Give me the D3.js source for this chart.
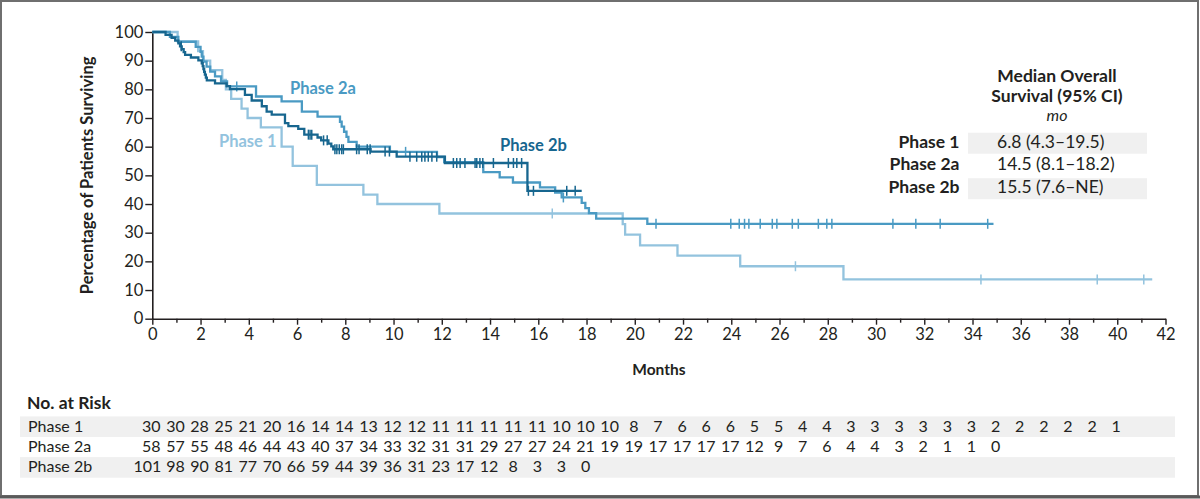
<!DOCTYPE html>
<html>
<head>
<meta charset="utf-8">
<script src="https://cdn.jsdelivr.net/npm/d3@7"></script>
<style>
  html, body { margin: 0; padding: 0; background: #fff; }
  svg { display: block; font-family: Lato, "Open Sans", sans-serif; }
</style>
</head>
<body>
<svg id="chart" width="1200" height="499"></svg>
<script>
// ---------------- DATA ----------------
const seriesNames = ["Phase 1", "Phase 2a", "Phase 2b"];

// Phase 1 (step change points)
const p1Times = [0, 1.05, 1.9, 2.1, 2.4, 2.9, 3.05, 3.27, 3.7, 3.95, 4.5, 5.36, 5.82, 6.82, 8.75, 9.33, 11.9, 19.5, 19.6, 20.22, 21.77, 24.37, 28.65];
const p1Surv  = [100, 96.7, 93.3, 90.0, 86.7, 83.3, 80.0, 76.7, 73.3, 70.0, 66.7, 60.0, 53.3, 46.7, 43.3, 40.0, 36.7, 33.0, 29.3, 25.6, 22.0, 18.3, 13.7];
const p1Censor = [16.58, 26.66, 34.35, 39.17, 41.1];
const p1End = 41.45;

// Phase 2a
const p2aTimes = [0, 0.73, 1.08, 1.8, 2.0, 2.05, 2.12, 2.25, 2.4, 2.6, 2.85, 3.1, 4.3, 5.36, 6.2, 6.85, 7.78, 7.85, 7.95, 8.05, 8.13, 8.47, 9.85, 11.8, 12.1, 13.72, 14.4, 14.95, 16.07, 16.7, 16.97, 17.8, 17.95, 18.1, 18.4, 20.52];
const p2aSurv  = [100, 98.3, 96.6, 94.8, 93.1, 91.4, 89.7, 87.9, 86.2, 84.5, 82.8, 81.0, 77.5, 75.8, 72.2, 70.5, 68.7, 67.0, 65.2, 63.4, 61.7, 60.0, 58.2, 56.4, 54.6, 51.1, 49.3, 47.5, 45.8, 44.0, 42.3, 40.4, 38.6, 36.8, 34.9, 33.1];
const p2aCensor = [3.5, 10.5, 17.04, 20.88, 23.98, 24.33, 24.55, 24.73, 25.2, 25.7, 25.89, 26.53, 26.78, 27.61, 27.96, 28.17, 30.7, 31.65, 32.66, 34.63];
const p2aEnd = 34.87;

// Phase 2b
const p2bTimes = [0, 0.55, 0.8, 0.95, 1.08, 1.15, 1.22, 1.3, 1.36, 1.6, 1.91, 2.05, 2.09, 2.12, 2.15, 2.18, 2.22, 2.26, 2.6, 3.08, 3.22, 3.84, 4.12, 4.54, 4.74, 4.95, 5.5, 5.64, 6.05, 6.3, 6.85, 7.0, 7.3, 7.42, 7.5, 9.05, 10.13, 12.13, 15.55];
const p2bSurv  = [100, 99.0, 98.0, 97.0, 96.0, 95.0, 94.0, 93.0, 92.0, 91.1, 90.1, 89.1, 88.1, 87.1, 86.1, 85.1, 84.1, 83.1, 82.1, 81.1, 80.1, 78.1, 76.1, 74.1, 72.2, 71.2, 68.2, 67.2, 66.2, 64.2, 63.2, 62.2, 61.1, 60.1, 59.1, 58.3, 56.5, 54.3, 44.6];
const p2bCensor = [1.2, 6.47, 6.54, 6.61, 7.1, 7.25, 7.57, 7.65, 7.75, 7.85, 7.92, 8.47, 8.57, 8.91, 9.03, 9.65, 9.83, 10.68, 10.96, 11.17, 11.3, 11.44, 11.59, 11.79, 12.48, 12.62, 12.76, 12.96, 13.38, 13.45, 13.58, 13.7, 14.14, 14.76, 14.97, 15.11, 15.31, 15.59, 15.8, 17.18, 17.53];
const p2bEnd = 17.8;

// Axis ticks
const xMajorTicks = d3.range(0, 43, 2);
const xMinorTicks = d3.range(1, 42, 2);
const yTicks = d3.range(0, 101, 10);

// Median table
const medianLabels = ["Phase 1", "Phase 2a", "Phase 2b"];
const medianValues = ["6.8 (4.3\u201319.5)", "14.5 (8.1\u201318.2)", "15.5 (7.6\u2013NE)"];

// Number at risk (months 0,1,2,...)
const riskP1  = [30,30,28,25,21,20,16,14,14,13,12,12,11,11,11,11,11,10,10,10,8,7,6,6,6,5,5,4,4,3,3,3,3,3,3,2,2,2,2,2,1];
const riskP2a = [58,57,55,48,46,44,43,40,37,34,33,32,31,31,29,27,27,24,21,19,19,17,17,17,17,12,9,7,6,4,4,3,2,1,1,0];
const riskP2b = [101,98,90,81,77,70,66,59,44,39,36,31,23,17,12,8,3,3,0];

// ---------------- DRAW ----------------
const colors = { "Phase 1": "#93c3de", "Phase 2a": "#4a9ac3", "Phase 2b": "#17668f" };
const ink = "#231f20";

const svg = d3.select("#chart");
svg.append("rect").attr("width", 1200).attr("height", 499).attr("fill", "#fff");
// frame
svg.append("rect").attr("x", 1).attr("y", 1).attr("width", 1197).attr("height", 495)
  .attr("fill", "none").attr("stroke", "#6f6f6f").attr("stroke-width", 2);
svg.append("line").attr("x1", 0).attr("x2", 1200).attr("y1", 497).attr("y2", 497)
  .attr("stroke", "#5a5a5a").attr("stroke-width", 3);

const x = d3.scaleLinear().domain([0, 42]).range([152.3, 1165.5]);
const y = d3.scaleLinear().domain([0, 100]).range([318.7, 32]);

// axes
const gx = svg.append("g").attr("transform", `translate(0,${y(0)})`);
gx.call(d3.axisBottom(x).tickValues(xMajorTicks).tickSize(6).tickPadding(4).tickSizeOuter(0));
const gxm = svg.append("g").attr("transform", `translate(0,${y(0)})`);
gxm.call(d3.axisBottom(x).tickValues(xMinorTicks).tickSize(4).tickFormat("").tickSizeOuter(0));
gxm.select(".domain").remove();

const gy = svg.append("g").attr("transform", `translate(${x(0)},0)`);
gy.call(d3.axisLeft(y).tickValues(yTicks).tickSize(7).tickPadding(2).tickSizeOuter(0));

[gx, gxm, gy].forEach(g => {
  g.selectAll(".domain").attr("stroke", ink).attr("stroke-width", 1.6);
  g.selectAll(".tick line").attr("stroke", ink).attr("stroke-width", 1.4);
  g.selectAll(".tick text").attr("fill", ink).style("font-size", "16.5px")
    .style("font-family", "Lato, sans-serif");
});

// axis titles
svg.append("text").attr("x", x(21)).attr("y", 375).attr("text-anchor", "middle")
  .attr("fill", ink).style("font-size", "15.5px").style("font-weight", "bold").text("Months");
svg.append("text").attr("transform", `translate(93,${(y(0) + y(100)) / 2}) rotate(-90)`)
  .attr("text-anchor", "middle").attr("fill", ink)
  .style("font-size", "16.5px").style("font-weight", "bold").text("Percentage of Patients Surviving");

// curves
const series = [
  { name: "Phase 1", t: p1Times, s: p1Surv, c: p1Censor, end: p1End },
  { name: "Phase 2a", t: p2aTimes, s: p2aSurv, c: p2aCensor, end: p2aEnd },
  { name: "Phase 2b", t: p2bTimes, s: p2bSurv, c: p2bCensor, end: p2bEnd }
];
const line = d3.line().x(d => x(d[0])).y(d => y(d[1])).curve(d3.curveStepAfter);

series.forEach(se => {
  const pts = se.t.map((t, i) => [t, se.s[i]]);
  pts.push([se.end, se.s[se.s.length - 1]]);
  const g = svg.append("g");
  g.append("path").datum(pts).attr("d", line).attr("fill", "none")
    .attr("stroke", colors[se.name]).attr("stroke-width", 2.3).attr("stroke-linejoin", "miter");
  const survAt = c => { let v = se.s[0]; se.t.forEach((t, i) => { if (t <= c) v = se.s[i]; }); return v; };
  g.selectAll("line.cens").data(se.c).enter().append("line")
    .attr("x1", d => x(d)).attr("x2", d => x(d))
    .attr("y1", d => y(survAt(d)) - 5).attr("y2", d => y(survAt(d)) + 5)
    .attr("stroke", colors[se.name]).attr("stroke-width", 1.5);
});

// curve labels
const curveLabels = [
  { name: "Phase 2a", xx: 290, yy: 94 },
  { name: "Phase 1", xx: 219, yy: 146.5 },
  { name: "Phase 2b", xx: 500, yy: 151 }
];
curveLabels.forEach(l => {
  svg.append("text").attr("x", l.xx).attr("y", l.yy).attr("fill", colors[l.name])
    .style("font-size", "16.5px").style("font-weight", "bold").text(l.name);
});

// median table
const tx = 1057;
svg.append("text").attr("x", tx).attr("y", 82).attr("text-anchor", "middle").attr("fill", ink)
  .style("font-size", "17.5px").style("font-weight", "bold").text("Median Overall");
svg.append("text").attr("x", tx).attr("y", 102).attr("text-anchor", "middle").attr("fill", ink)
  .style("font-size", "17.5px").style("font-weight", "bold").text("Survival (95% CI)");
svg.append("text").attr("x", tx).attr("y", 121).attr("text-anchor", "middle").attr("fill", ink)
  .style("font-size", "16px").style("font-style", "italic").text("mo");
const rowBase = [147.7, 170.3, 193.2];
medianLabels.forEach((lab, i) => {
  if (i !== 1) {
    svg.append("rect").attr("x", 968).attr("y", rowBase[i] - 15).attr("width", 179).attr("height", 21)
      .attr("fill", "#f0f0f0");
  }
  svg.append("text").attr("x", 959.5).attr("y", rowBase[i]).attr("text-anchor", "end").attr("fill", ink)
    .style("font-size", "17.5px").style("font-weight", "bold").text(lab);
  svg.append("text").attr("x", 997).attr("y", rowBase[i]).attr("fill", ink)
    .style("font-size", "17.5px").text(medianValues[i]);
});

// number at risk
svg.append("text").attr("x", 27).attr("y", 409).attr("fill", ink)
  .style("font-size", "17.5px").style("font-weight", "bold").text("No. at Risk");
const riskRows = [riskP1, riskP2a, riskP2b];
const riskBase = [431.7, 452, 472.4];
riskRows.forEach((row, i) => {
  if (i !== 1) {
    svg.append("rect").attr("x", 20).attr("y", riskBase[i] - 15.3).attr("width", 1155).attr("height", 20.6)
      .attr("fill", "#f0f0f0");
  }
  svg.append("text").attr("x", 28).attr("y", riskBase[i]).attr("fill", ink)
    .style("font-size", "16px").text(seriesNames[i]);
  svg.append("g").selectAll("text").data(row).enter().append("text")
    .attr("x", (d, k) => x(k)).attr("y", riskBase[i]).attr("text-anchor", "middle")
    .attr("dx", d => (d >= 100 ? -5 : -1))
    .attr("fill", ink).style("font-size", "16px").text(d => d);
});
</script>
</body>
</html>
